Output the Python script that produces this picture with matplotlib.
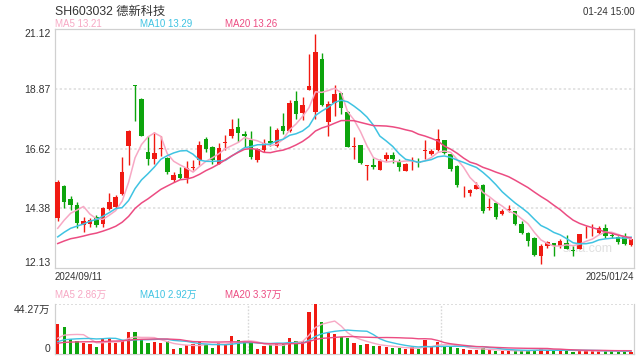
"""
Daily candlestick chart of SH603032 with moving averages and volume panel
"""

import matplotlib.pyplot as plt
import numpy as np
import pandas as pd

plt.rcParams['font.family'] = ['Liberation Sans', 'Noto Sans CJK SC']

# Daily prices 2024/09/11 .. 2025/01/24
opens = [14.01, 15.22, 14.72, 14.50, 13.76, 13.79, 14.07, 13.78, 14.34, 14.43,
         14.90, 16.71, 19.04, 18.50, 16.50, 16.25, 16.63, 16.29, 15.44, 15.68,
         15.53, 15.90, 16.19, 17.00, 16.69, 16.06, 16.84, 17.09, 17.43, 17.18,
         16.97, 16.19, 16.57, 16.91, 16.72, 17.50, 17.29, 18.43, 17.96, 18.83,
         18.01, 20.01, 17.63, 18.36, 18.72, 18.01, 16.68, 16.75, 15.98, 16.03,
         15.84, 16.25, 16.40, 16.15, 15.77, 16.18, 16.14, 16.55, 16.43, 16.57,
         16.94, 16.41, 15.98, 15.02, 14.96, 15.12, 15.27, 14.40, 14.59, 14.16,
         14.31, 14.26, 13.79, 13.46, 13.27, 12.60, 12.94, 13.09, 12.97, 13.09,
         12.80, 12.84, 13.47, 13.55, 13.43, 13.64, 13.38, 13.30, 13.30, 12.98]
highs = [15.44, 15.25, 14.85, 14.60, 14.07, 14.03, 14.13, 14.42, 14.94, 14.88,
         16.31, 17.35, 19.04, 18.53, 17.09, 17.25, 17.12, 16.32, 15.75, 15.94,
         16.15, 16.21, 16.91, 17.06, 16.71, 16.84, 17.15, 17.75, 17.77, 17.28,
         17.28, 16.66, 17.00, 17.48, 17.42, 17.96, 18.47, 18.81, 18.58, 20.20,
         20.96, 20.22, 18.43, 19.03, 18.74, 18.05, 17.08, 16.75, 16.03, 16.28,
         16.22, 16.51, 16.49, 16.22, 16.09, 16.30, 16.28, 16.95, 16.60, 17.38,
         16.94, 16.41, 16.00, 15.22, 15.12, 15.36, 15.30, 14.75, 14.63, 14.36,
         14.50, 14.28, 13.89, 13.48, 13.30, 13.03, 13.15, 13.09, 13.21, 13.37,
         12.96, 13.42, 13.70, 13.79, 13.70, 13.79, 13.46, 13.32, 13.46, 13.24]
lows = [13.91, 14.40, 14.32, 13.63, 13.48, 13.69, 13.66, 13.69, 14.32, 14.38,
        14.88, 16.00, 17.68, 17.09, 16.00, 16.06, 16.35, 15.69, 15.38, 15.48,
        15.32, 15.81, 16.00, 16.50, 16.06, 16.04, 16.56, 17.04, 16.87, 16.69,
        16.23, 16.13, 16.51, 16.72, 16.70, 17.19, 17.25, 17.73, 17.71, 18.83,
        17.73, 18.24, 17.10, 17.86, 17.92, 16.70, 16.24, 16.05, 15.43, 15.86,
        15.81, 16.18, 16.09, 15.77, 15.77, 15.84, 15.92, 16.22, 16.39, 16.53,
        16.44, 15.77, 15.20, 14.81, 14.85, 15.09, 14.20, 14.32, 13.97, 14.13,
        14.23, 13.76, 13.40, 12.96, 12.60, 12.29, 12.90, 12.60, 12.87, 12.84,
        12.60, 12.83, 13.27, 13.33, 13.40, 13.27, 13.27, 13.05, 13.00, 12.96]
closes = [15.38, 14.63, 14.50, 13.82, 13.91, 13.94, 13.76, 14.38, 14.60, 14.79,
          15.73, 17.31, 18.99, 17.09, 16.23, 16.48, 16.67, 15.73, 15.65, 15.53,
          15.88, 15.93, 16.78, 16.63, 16.19, 16.65, 16.87, 17.37, 17.22, 17.12,
          16.31, 16.60, 16.85, 16.85, 17.35, 17.29, 18.36, 17.95, 18.26, 18.99,
          20.29, 18.26, 18.30, 18.68, 18.15, 16.70, 16.72, 16.09, 16.01, 15.93,
          16.18, 16.40, 16.25, 15.92, 16.06, 16.20, 16.10, 16.58, 16.53, 17.01,
          16.47, 15.86, 15.24, 15.05, 15.08, 15.27, 14.26, 14.43, 14.07, 14.28,
          14.33, 13.79, 13.46, 13.13, 12.63, 12.94, 13.11, 12.97, 13.15, 12.84,
          12.78, 13.40, 13.50, 13.58, 13.62, 13.33, 13.35, 13.10, 13.05, 13.22]
# volume in 万
volumes = [27.2, 24.5, 13.5, 12.0, 10.5, 9.3, 6.6, 13.8, 15.0, 10.5,
           12.0, 20.0, 20.0, 13.2, 10.5, 11.1, 10.5, 11.7, 5.1, 6.0,
           8.1, 9.3, 11.1, 9.6, 6.0, 10.2, 9.0, 16.5, 12.9, 11.1,
           10.5, 5.1, 7.5, 8.4, 9.6, 9.6, 14.7, 11.7, 11.7, 37.4,
           44.27, 28.7, 19.4, 18.2, 15.3, 14.7, 10.2, 8.4, 9.3, 7.5,
           7.5, 6.6, 5.7, 5.7, 4.8, 6.3, 4.8, 12.9, 6.3, 11.4,
           7.5, 7.2, 5.7, 5.1, 3.6, 4.2, 5.9, 3.6, 3.4, 2.8,
           2.8, 3.7, 3.4, 3.7, 4.3, 5.3, 3.75, 3.7, 3.7, 3.9,
           2.5, 3.4, 3.0, 3.0, 3.0, 3.3, 3.3, 2.0, 3.3, 2.4]

# sessions before the window, needed for the moving averages at the left edge
prior_closes = [12.7, 12.8, 12.9, 12.8, 12.7, 12.8, 12.9, 12.9, 12.8, 12.7,
                12.9, 13.0, 13.0, 13.1, 12.9, 13.1, 13.2, 13.2, 13.25]
prior_volumes = [8.0, 8.6, 8.2, 8.8, 8.4, 8.1, 8.7, 8.3, 8.5, 8.4,
                 8.2, 8.6, 8.4, 8.3, 8.5, 10.8, 11.4, 11.0, 11.6]

ma_periods = [5, 10, 20]
ma_colors = ['#f7a8c4', '#3fc3e2', '#ec4c82']
price_ticks = [21.12, 18.87, 16.62, 14.38, 12.13]

RED = '#f01a12'
GREEN = '#0da40d'
TXT = '#333333'


def moving_averages(prior, values):
    s = pd.Series(prior + values)
    return [s.rolling(p).mean().iloc[len(prior):].to_numpy() for p in ma_periods]


x = np.arange(len(closes))
o, h, l, c = map(np.array, (opens, highs, lows, closes))
up = c >= o
colors = np.where(up, RED, GREEN)

fig = plt.figure(figsize=(6.4, 3.6), dpi=100)
ax = fig.add_axes([0.0852, 0.2556, 0.9059, 0.6625])
axv = fig.add_axes([0.0852, 0.0153, 0.9059, 0.1389])

# candles
ax.vlines(x, l, h, colors=colors, lw=1.0, zorder=3)
body = np.maximum(np.abs(c - o), 0.03)
ax.bar(x, body, bottom=np.minimum(o, c), width=0.7, color=colors, zorder=3)

price_ma = moving_averages(prior_closes, closes)
for ma, col in zip(price_ma, ma_colors):
    ax.plot(x, ma, color=col, lw=1.1, zorder=4)

ax.set_xlim(-0.5, len(x) - 0.5)
ax.set_ylim(price_ticks[-1], price_ticks[0])
ax.set_yticks(price_ticks)
ax.set_yticklabels([f'{t:.2f}' for t in price_ticks])
ax.set_xticks([])
ax.tick_params(axis='y', length=0, pad=3, labelsize=7.5, labelcolor=TXT)
labs = ax.get_yticklabels()
labs[0].set_va('top')
labs[-1].set_va('bottom')
for t in price_ticks[1:-1]:
    ax.axhline(t, color='#e4e4e4', lw=1.4, ls=(0, (1.2, 1.2)), zorder=1)
for sp in ax.spines.values():
    sp.set_color('#d0d0d0')
    sp.set_linewidth(0.9)
ax.text(0.963, 0.08, 'sina.com', transform=ax.transAxes, ha='right',
        va='center', fontsize=9, color='#e0e0e0', zorder=2)

# volume
axv.bar(x, volumes, width=0.5, color=colors, zorder=3)
vol_ma = moving_averages(prior_volumes, volumes)
for ma, col in zip(vol_ma, ma_colors):
    axv.plot(x, ma, color=col, lw=1.0, zorder=4)
vmax = max(volumes)
axv.set_xlim(-0.5, len(x) - 0.5)
axv.set_ylim(0, vmax)
axv.set_yticks([0, vmax])
axv.set_yticklabels(['0', f'{vmax:.2f}万'])
axv.set_xticks([])
axv.tick_params(axis='y', length=0, pad=3, labelsize=7.5, labelcolor=TXT)
vl = axv.get_yticklabels()
vl[0].set_va('bottom')
vl[1].set_va('top')
axv.axhline(vmax, color='#d8d8d8', lw=1.2, ls=(0, (1.2, 1.2)), zorder=1)
for xv in (len(x) / 3 - 0.5, 2 * len(x) / 3 - 0.5):
    axv.axvline(xv, color='#d8d8d8', lw=1.0, ls=(0, (1.2, 1.2)), zorder=1)
axv.spines['top'].set_visible(False)
for side in ('left', 'right', 'bottom'):
    axv.spines[side].set_color('#d0d0d0')
    axv.spines[side].set_linewidth(0.9)

# header texts
fig.text(0.0852, 0.966, 'SH603032 德新科技', fontsize=8.8, color=TXT,
         va='center', ha='left')
fig.text(0.991, 0.966, '01-24 15:00', fontsize=7, color=TXT,
         va='center', ha='right')
xs = [0.0852, 0.219, 0.352]
for xp, p, ma, col in zip(xs, ma_periods, price_ma, ma_colors):
    fig.text(xp, 0.933, f'MA{p} {ma[-1]:.2f}', fontsize=7, color=col,
             va='center', ha='left')
fig.text(0.0852, 0.231, '2024/09/11', fontsize=7, color=TXT, va='center')
fig.text(0.991, 0.231, '2025/01/24', fontsize=7, color=TXT, va='center',
         ha='right')
for xp, p, ma, col in zip(xs, ma_periods, vol_ma, ma_colors):
    fig.text(xp, 0.181, f'MA{p} {ma[-1]:.2f}万', fontsize=7, color=col,
             va='center', ha='left')

fig.savefig('out.png', dpi=100)
